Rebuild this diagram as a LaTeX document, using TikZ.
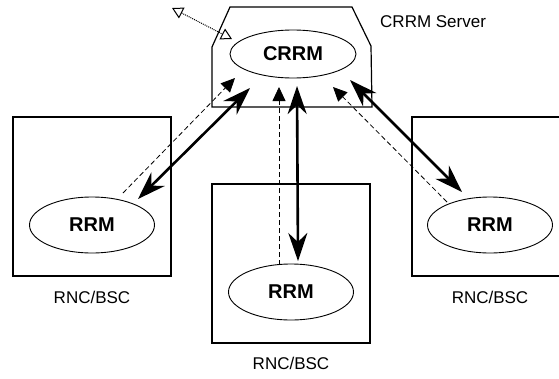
\documentclass[tikz,border=0pt]{standalone}
\usepackage{fontspec}
\setmainfont{Liberation Sans}
\usetikzlibrary{shapes.geometric,arrows.meta,calc}
\begin{document}
\begin{tikzpicture}[x=1pt,y=-1pt,
  box/.style={draw,line width=1.2pt,minimum width=158pt,minimum height=159pt,inner sep=0pt},
  proc/.style={draw,ellipse,line width=0.9pt,minimum width=125pt,minimum height=56pt,inner sep=0pt,
    font=\fontsize{20}{24}\selectfont\bfseries},
  lbl/.style={font=\fontsize{17}{20}\selectfont,inner sep=0pt},
  ctrl/.style={line width=2.6pt,{Stealth[length=28pt,width=19pt,inset=9pt]}-{Stealth[length=28pt,width=19pt,inset=9pt]}},
  sig/.style={line width=0.8pt,dash pattern=on 5pt off 3pt,-{Triangle[length=14pt,width=13pt]}},
  ext/.style={line width=1pt,dash pattern=on 1pt off 1pt,
    {Triangle[open,length=11pt,width=12pt,line width=1pt]}-{Triangle[open,length=11pt,width=12pt,line width=1pt]}}
]
\clip (0,0) rectangle (559,378);
% server shape
\draw[line width=1.2pt] (230,7) -- (352,7) -- (371,46) -- (372,107) -- (212,107) -- (212,47) -- cycle;
\node[proc,minimum width=126pt,minimum height=48pt] (crrm) at (293,54) {CRRM};
\node[lbl,anchor=west] (srv) at (380,22) {CRRM Server};
% RNC boxes
\node[box] (b1) at (92,196.5) {};
\node[box] (b2) at (291,263.5) {};
\node[box] (b3) at (491,196.5) {};
\node[proc] (r1) at (92,225) {RRM};
\node[proc] (r2) at (291,292) {RRM};
\node[proc] (r3) at (490,225) {RRM};
\node[lbl] (l1) at (92,297) {RNC/BSC};
\node[lbl] (l2) at (291,363) {RNC/BSC};
\node[lbl] (l3) at (490,297) {RNC/BSC};
% dashed signalling arrows (RRM -> CRRM)
\draw[sig] ($(r1.center)+(31,-32)$) -- ($(crrm.center)+(-58,24)$);
\draw[sig] ($(r2.center)+(-12,-27)$) -- ($(crrm.center)+(-14,33)$);
\draw[sig] ($(r3.center)+(-43,-23)$) -- ($(crrm.center)+(40,33)$);
% thick bidirectional arrows
\draw[ctrl] ($(r1.center)+(46,-26)$) -- ($(crrm.center)+(-43,34)$);
\draw[ctrl] ($(crrm.center)+(4,32)$) -- ($(r2.center)+(7,-31)$);
\draw[ctrl] ($(crrm.center)+(57,26)$) -- ($(r3.center)+(-28,-33)$);
% dotted external arrow
\coordinate (ext) at (172,8);
\draw[ext] (ext) -- ($(crrm.center)+(-61,-15)$);
\end{tikzpicture}
\end{document}
